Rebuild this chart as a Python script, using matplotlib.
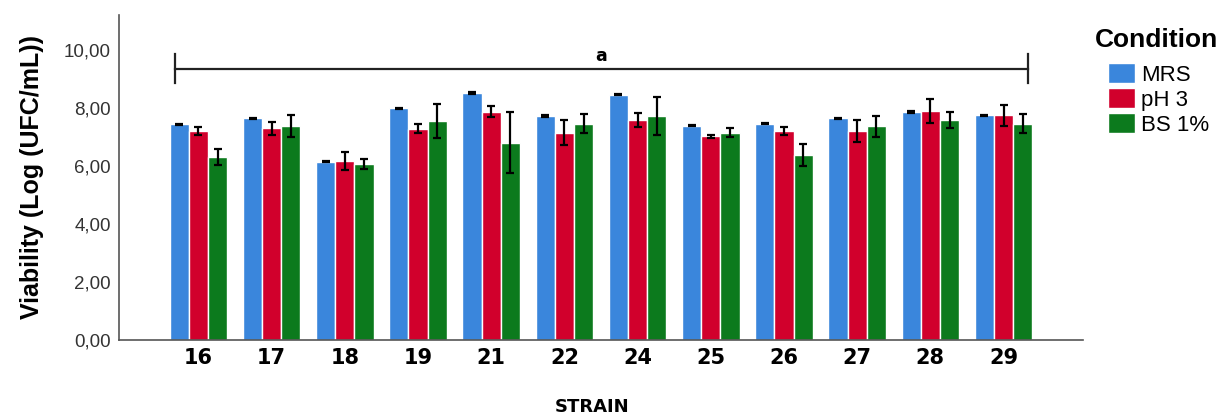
import matplotlib
matplotlib.use("Agg")
import matplotlib.pyplot as plt
import numpy as np

strains = ["16", "17", "18", "19", "21", "22", "24", "25", "26", "27", "28", "29"]
conditions = ["MRS", "pH 3", "BS 1%"]
mrs = [7.44, 7.64, 6.14, 7.98, 8.51, 7.72, 8.45, 7.38, 7.45, 7.64, 7.86, 7.74]
mrs_err = [0.02, 0.02, 0.02, 0.02, 0.02, 0.02, 0.02, 0.02, 0.02, 0.02, 0.02, 0.02]
ph3 = [7.21, 7.29, 6.17, 7.28, 7.87, 7.15, 7.59, 7.02, 7.20, 7.21, 7.90, 7.74]
ph3_err = [0.13, 0.21, 0.31, 0.16, 0.19, 0.43, 0.25, 0.05, 0.14, 0.38, 0.42, 0.36]
bs = [6.30, 7.36, 6.07, 7.54, 6.80, 7.45, 7.71, 7.15, 6.37, 7.36, 7.59, 7.46]
bs_err = [0.28, 0.38, 0.16, 0.58, 1.05, 0.33, 0.66, 0.17, 0.37, 0.37, 0.28, 0.34]
colors = ["#3a86dc", "#d1002c", "#0c7a1d"]
ytick_vals = [0, 2, 4, 6, 8, 10]
ytick_labels = ["0,00", "2,00", "4,00", "6,00", "8,00", "10,00"]
sig_label = "a"
sig_level = 9.34

fig = plt.figure(figsize=(12.27, 4.17), dpi=100)
ax = fig.add_axes([0.097, 0.1847, 0.7856, 0.7793])

x = np.arange(len(strains))
w = 0.262
series = [(mrs, mrs_err), (ph3, ph3_err), (bs, bs_err)]
for i, ((vals, errs), c, lab) in enumerate(zip(series, colors, conditions)):
    pos = x + (i - 1) * w
    ax.bar(pos, vals, width=w, color=c, edgecolor="white", linewidth=1.0, label=lab, zorder=2)
    ax.errorbar(pos, vals, yerr=errs, fmt="none", ecolor="black", elinewidth=1.6,
                capsize=2.6, capthick=1.6, zorder=3)

ax.set_xlim(-1.086, 12.085)
ax.set_ylim(0, 11.2)
ax.set_yticks(ytick_vals)
ax.set_yticklabels(ytick_labels, fontsize=13.5, color="#333333", family="Liberation Sans")
ax.set_xticks(x)
ax.set_xticklabels(strains, fontsize=15, fontweight="bold", family="DejaVu Sans")
ax.tick_params(axis="both", length=0, pad=6)
for s in ["top", "right"]:
    ax.spines[s].set_visible(False)
for s in ["left", "bottom"]:
    ax.spines[s].set_color("#555555")
    ax.spines[s].set_linewidth(1.2)

# significance bracket
x0, x1 = -0.32, 11.33
ax.plot([x0, x1], [sig_level, sig_level], color="#222222", lw=1.6, zorder=4)
ax.plot([x0, x0], [sig_level - 0.5, sig_level + 0.5], color="#222222", lw=1.6, zorder=4)
ax.plot([x1, x1], [sig_level - 0.5, sig_level + 0.5], color="#222222", lw=1.6, zorder=4)
ax.text((x0 + x1) / 2, sig_level + 0.12, sig_label, ha="center", va="bottom",
        fontsize=12.5, fontweight="bold", family="DejaVu Sans")

ax.set_ylabel("Viability (Log (UFC/mL))", fontsize=18, fontweight="bold",
              family="Liberation Sans", labelpad=14)
fig.text(592 / 1227, 1 - 407 / 417, "STRAIN", ha="center", va="center",
         fontsize=13, fontweight="bold", family="DejaVu Sans")

fig.text(1095 / 1227, 1 - 40 / 417, "Condition", ha="left", va="center",
         fontsize=19, fontweight="bold", family="Liberation Sans")
leg = ax.legend(loc="upper left", bbox_to_anchor=(1108 / 1227, 1 - 63 / 417),
                bbox_transform=fig.transFigure, frameon=False,
                prop={"family": "Liberation Sans", "size": 16},
                handlelength=1.2, handleheight=1.0, handletextpad=0.3,
                labelspacing=0.12, borderaxespad=0, borderpad=0)

fig.savefig("out.png", dpi=100)
